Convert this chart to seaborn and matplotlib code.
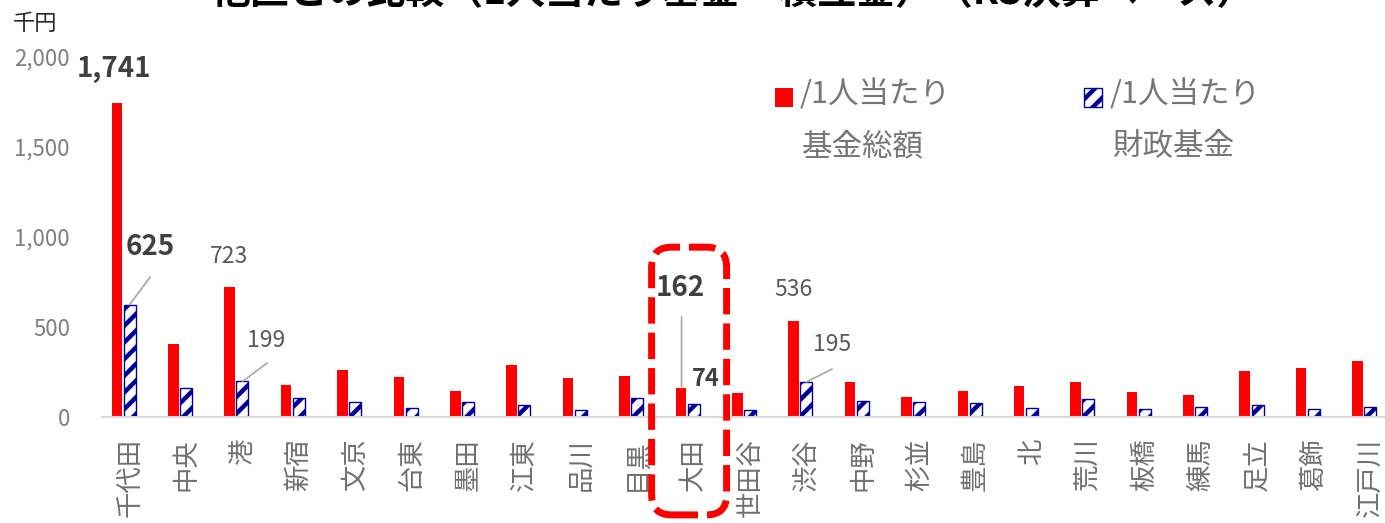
import matplotlib
matplotlib.use("Agg")
import matplotlib.pyplot as plt
import matplotlib.transforms as mtrans
from matplotlib.patches import FancyBboxPatch, Rectangle
import seaborn as sns
import pandas as pd

# ---------------- data ----------------
wards = ["千代田", "中央", "港", "新宿", "文京", "台東", "墨田", "江東", "品川", "目黒",
         "大田", "世田谷", "渋谷", "中野", "杉並", "豊島", "北", "荒川", "板橋", "練馬",
         "足立", "葛飾", "江戸川"]
fund_total = [1741, 407, 723, 180, 263, 226, 146, 290, 220, 229,
              162, 133, 536, 194, 111, 144, 176, 196, 141, 124,
              257, 274, 313]
fiscal_fund = [625, 165, 199, 106, 87, 52, 87, 70, 41, 109,
               74, 40, 195, 90, 85, 78, 50, 100, 46, 59,
               67, 48, 57]
series_names = ["基金総額", "財政基金", "その他"]
y_ticks = [0, 500, 1000, 1500, 2000]
title = "他区との比較（1人当たり基金・積立金）（R3決算ベース）"
unit_label = "千円"

RED = "#FF0000"
NAVY = "#000099"
GREY_TXT = "#767676"

sns.set_theme(style="white")
plt.rcParams["font.family"] = ["Noto Sans CJK JP", "DejaVu Sans"]
plt.rcParams["hatch.linewidth"] = 3.2

df = pd.DataFrame({
    "区": wards * 2,
    "系列": [series_names[0]] * len(wards) + [series_names[1]] * len(wards),
    "値": fund_total + fiscal_fund,
})

W, H = 1385, 523
fig = plt.figure(figsize=(W / 100, H / 100), dpi=100)
ax = fig.add_axes([101.5 / W, 1 - 417.3 / H, 1297 / W, (417.3 - 56.5) / H])

palette = {series_names[0]: RED, series_names[1]: "white", series_names[2]: "#C0504D"}
sns.barplot(data=df, x="区", y="値", hue="系列", hue_order=series_names, order=wards,
            palette=palette, width=0.64, saturation=1, errorbar=None, legend=False,
            linewidth=0, ax=ax)

for bar in ax.containers[0]:
    bar.set_width(bar.get_width() * 0.88)
for bar in ax.containers[1]:
    bar.set_edgecolor(NAVY)
    bar.set_hatch("//")
    bar.set_linewidth(1.0)

ax.set_xlim(-0.5, len(wards) - 0.5)
ax.set_ylim(0, 2000)
ax.set_yticks(y_ticks)
ax.set_yticklabels([f"{v:,}" for v in y_ticks])
ax.tick_params(axis="y", length=0, pad=22.7, labelsize=16, labelcolor="#7f7f7f")
ax.set_xticks(range(len(wards)))
ax.set_xticklabels(wards, fontsize=19, color="#707070", rotation=90,
                   va="top", ha="center")
ax.tick_params(axis="x", length=0, pad=15)
ax.set_xlabel("")
ax.set_ylabel("")
for s in ["left", "right", "top"]:
    ax.spines[s].set_visible(False)
ax.spines["bottom"].set_color("#d9d9d9")
ax.spines["bottom"].set_linewidth(1.5)
ax.grid(False)

# ---------------- data labels ----------------
off = 0.64 / 3  # slot width


def label(i, val, dx, ytxt, bold, size):
    ax.text(i + dx, ytxt, f"{val:,}", ha="center", va="center", fontsize=size,
            fontweight="bold" if bold else "normal",
            color="#404040" if bold else "#595959")


def leader(x0, y0, x1, y1):
    ax.annotate("", xy=(x1, y1), xytext=(x0, y0),
                arrowprops=dict(arrowstyle="-", color="#a6a6a6", lw=1.2,
                                shrinkA=0, shrinkB=0))


label(0, fund_total[0], -0.275, 1931, True, 20)
label(0, fiscal_fund[0], 0.363, 944, True, 20)
leader(0.363, 778, 0, fiscal_fund[0])
label(2, fund_total[2], -0.236, 889, False, 16.5)
label(2, fiscal_fund[2], 0.42, 428, False, 16.5)
leader(2.438, 301, 2, fiscal_fund[2])
label(10, fund_total[10], -0.239, 717, True, 20)
leader(10 - off, 556, 10 - off, fund_total[10])
label(10, fiscal_fund[10], 0.22, 212, True, 17)
label(12, fund_total[12], -0.236, 706, False, 16.5)
label(12, fiscal_fund[12], 0.456, 401, False, 16.5)
leader(12.456, 268, 12, fiscal_fund[12])

# ---------------- title / unit ----------------
fig.text(734 / W, 1 - 12 / H, title, ha="center", va="bottom", fontsize=28,
         fontweight="bold", color="black")
fig.text(35 / W, 1 - 23 / H, unit_label, ha="center", va="center", fontsize=16,
         color="#262626")

# ---------------- legend ----------------
fig.add_artist(Rectangle((775 / W, 1 - 107 / H), 18 / W, 19 / H, transform=fig.transFigure,
                         facecolor=RED, edgecolor="none"))
fig.add_artist(Rectangle((1084 / W, 1 - 107 / H), 18 / W, 19 / H, transform=fig.transFigure,
                         facecolor="white", edgecolor=NAVY, hatch="//", linewidth=1))
for x0, line1, line2 in [(800, "/1人当たり", "基金総額"), (1110, "/1人当たり", "財政基金")]:
    fig.text(x0 / W, 1 - 95 / H, line1, ha="left", va="center", fontsize=22, color=GREY_TXT)
    fig.text((x0 + 2) / W, 1 - 147 / H, line2, ha="left", va="center", fontsize=22, color=GREY_TXT)

# ---------------- highlight box around 大田 ----------------
fig.canvas.draw()
hi = wards.index("大田")
(xa, ya) = ax.transData.transform((hi - 0.745, -541))
(xb, yb) = ax.transData.transform((hi + 0.585, 943))
box = FancyBboxPatch((xa, ya), xb - xa, yb - ya,
                     boxstyle="round,pad=0,rounding_size=20",
                     transform=mtrans.IdentityTransform(),
                     facecolor="none", edgecolor=RED, linewidth=5,
                     linestyle=(0, (3.8, 1.3)), clip_on=False)
fig.add_artist(box)

fig.savefig("out.png", dpi=100)
